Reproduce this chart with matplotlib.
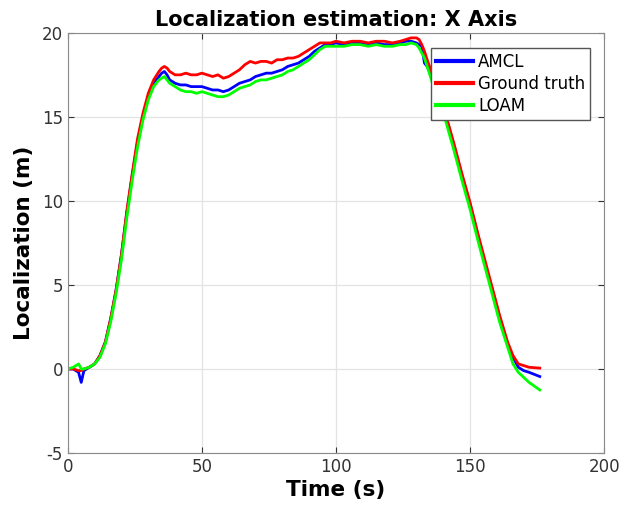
import numpy as np
import matplotlib.pyplot as plt

plt.rcParams['axes.unicode_minus'] = False

# time (s)
t = [0, 2, 4, 5, 6, 8, 10, 12, 14, 16, 18, 20, 22, 24, 26, 28, 30, 32, 34, 35,
     36, 37, 38, 40, 42, 44, 46, 48, 50, 52, 54, 56, 58, 60, 62, 64, 66, 68, 70, 72,
     74, 76, 78, 80, 82, 84, 86, 88, 90, 92, 94, 96, 98, 100, 103, 106, 109, 112, 115, 118,
     121, 124, 126, 128, 130, 131, 132, 133, 134, 136, 138, 141, 144, 147, 150, 153, 156, 158, 161, 164,
     166, 168, 170, 172, 176]

amcl = [0, 0, -0.2, -0.8, -0.1, 0.1, 0.3, 0.8, 1.6, 3.0, 4.7, 6.8, 9.3, 11.5, 13.5, 15.0, 16.2, 17.0, 17.4, 17.6,
        17.7, 17.5, 17.2, 17.0, 16.9, 16.9, 16.8, 16.8, 16.8, 16.7, 16.6, 16.6, 16.5, 16.6, 16.8, 17.0, 17.1, 17.2, 17.4, 17.5,
        17.6, 17.6, 17.7, 17.8, 18.0, 18.1, 18.2, 18.4, 18.6, 18.9, 19.1, 19.3, 19.3, 19.4, 19.3, 19.4, 19.4, 19.3, 19.4, 19.3,
        19.3, 19.4, 19.5, 19.5, 19.4, 19.3, 19.2, 18.2, 18.0, 17.3, 16.3, 15.0, 13.3, 11.5, 9.8, 7.9, 6.0, 4.9, 3.1, 1.5,
        0.7, 0.1, -0.1, -0.2, -0.45]

ground_truth = [0, 0, -0.1, -0.1, 0, 0.1, 0.3, 0.8, 1.6, 3.0, 4.7, 6.8, 9.4, 11.6, 13.7, 15.2, 16.4, 17.2, 17.7, 17.9,
                18.0, 17.9, 17.7, 17.5, 17.5, 17.6, 17.5, 17.5, 17.6, 17.5, 17.4, 17.5, 17.3, 17.4, 17.6, 17.8, 18.1, 18.3, 18.2, 18.3,
                18.3, 18.2, 18.4, 18.4, 18.5, 18.5, 18.6, 18.8, 19.0, 19.2, 19.4, 19.4, 19.4, 19.5, 19.4, 19.5, 19.5, 19.4, 19.5, 19.5,
                19.4, 19.5, 19.6, 19.7, 19.7, 19.6, 19.3, 18.9, 18.4, 17.5, 16.5, 15.1, 13.4, 11.6, 9.9, 8.0, 6.2, 5.0, 3.2, 1.6,
                0.8, 0.3, 0.2, 0.1, 0.05]

loam = [0, 0.1, 0.3, 0, 0, 0.1, 0.3, 0.7, 1.5, 2.8, 4.5, 6.5, 9.0, 11.2, 13.2, 14.8, 16.0, 16.8, 17.2, 17.3,
        17.4, 17.2, 17.0, 16.8, 16.6, 16.5, 16.5, 16.4, 16.5, 16.4, 16.3, 16.2, 16.2, 16.3, 16.5, 16.7, 16.8, 16.9, 17.1, 17.2,
        17.2, 17.3, 17.4, 17.5, 17.7, 17.8, 18.0, 18.2, 18.4, 18.7, 19.0, 19.2, 19.2, 19.2, 19.2, 19.3, 19.3, 19.2, 19.3, 19.2,
        19.2, 19.3, 19.3, 19.4, 19.3, 19.1, 18.8, 18.5, 18.0, 17.0, 16.1, 14.7, 13.0, 11.2, 9.5, 7.6, 5.8, 4.6, 2.8, 1.3,
        0.3, -0.2, -0.5, -0.8, -1.25]

fig = plt.figure(figsize=(6.28, 5.13), dpi=100)
ax = fig.add_axes([0.108, 0.117, 0.854, 0.819])

ax.plot(t, amcl, color=(0, 0, 1), lw=2.0, label='AMCL')
ax.plot(t, ground_truth, color=(1, 0, 0), lw=2.0, label='Ground truth')
ax.plot(t, loam, color=(0, 1, 0), lw=2.0, label='LOAM')

ax.set_xlim(0, 200)
ax.set_ylim(-5, 20)
ax.set_xticks([0, 50, 100, 150, 200])
ax.set_yticks([-5, 0, 5, 10, 15, 20])
ax.grid(True, color='#e3e3e3', lw=0.9)
ax.set_axisbelow(True)
ax.tick_params(direction='in', top=True, right=True, labelsize=12, colors='#333333', length=4)
for s in ax.spines.values():
    s.set_color('#8a8a8a')

ax.set_title('Localization estimation: X Axis', fontsize=15, fontweight='bold', pad=5)
ax.set_xlabel('Time (s)', fontsize=15.5, fontweight='bold', labelpad=3)
ax.set_ylabel('Localization (m)', fontsize=15.5, fontweight='bold', labelpad=6)

leg = ax.legend(loc='upper right', bbox_to_anchor=(0.974, 0.964), fontsize=12, fancybox=False,
                framealpha=1, edgecolor='#555555', handlelength=2.2, borderpad=0.3,
                labelspacing=0.25, handletextpad=0.3, borderaxespad=0)
leg.get_frame().set_linewidth(1.0)
for h in leg.get_lines():
    h.set_linewidth(3)

fig.savefig('out.png', dpi=100)
